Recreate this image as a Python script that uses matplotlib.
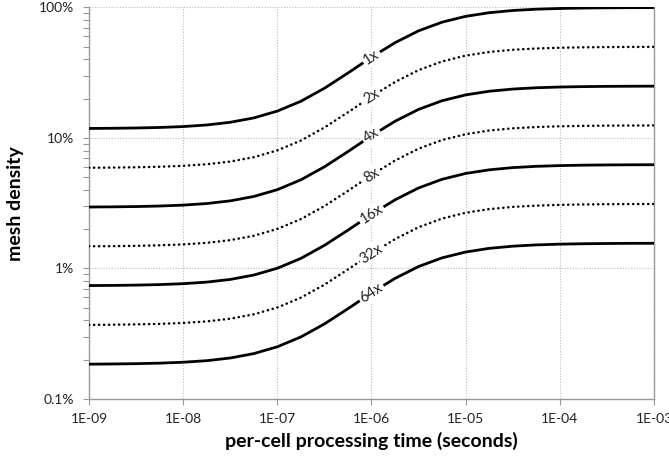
import numpy as np
import matplotlib
matplotlib.use("Agg")
import matplotlib.pyplot as plt

plt.rcParams['font.family'] = ['Lato', 'DejaVu Sans']

# per-cell processing time (s), quarter-decade steps
times = [1.00e-09, 1.78e-09, 3.16e-09, 5.62e-09, 1.00e-08, 1.78e-08, 3.16e-08, 5.62e-08,
         1.00e-07, 1.78e-07, 3.16e-07, 5.62e-07, 1.00e-06, 1.78e-06, 3.16e-06, 5.62e-06,
         1.00e-05, 1.78e-05, 3.16e-05, 5.62e-05, 1.00e-04, 1.78e-04, 3.16e-04, 5.62e-04,
         1.00e-03]

# mesh density for each refinement level
dens_1x = [0.1183, 0.1187, 0.1193, 0.1204, 0.1223, 0.1258, 0.1319, 0.1425, 0.1607,
           0.1912, 0.2404, 0.3145, 0.4159, 0.5375, 0.6624, 0.7720, 0.8554, 0.9124,
           0.9485, 0.9703, 0.9830, 0.9904, 0.9946, 0.9969, 0.9983]
dens_2x = [0.05915, 0.05933, 0.05964, 0.06019, 0.06117, 0.06290, 0.06593, 0.07123, 0.08034,
           0.09561, 0.1202, 0.1573, 0.2079, 0.2687, 0.3312, 0.3860, 0.4277, 0.4562,
           0.4743, 0.4851, 0.4915, 0.4952, 0.4973, 0.4985, 0.4991]
dens_4x = [0.02958, 0.02967, 0.02982, 0.03010, 0.03059, 0.03145, 0.03297, 0.03562, 0.04017,
           0.04781, 0.06010, 0.07863, 0.1040, 0.1344, 0.1656, 0.1930, 0.2139, 0.2281,
           0.2371, 0.2426, 0.2458, 0.2476, 0.2486, 0.2492, 0.2496]
dens_8x = [0.01479, 0.01483, 0.01491, 0.01505, 0.01529, 0.01572, 0.01648, 0.01781, 0.02009,
           0.02390, 0.03005, 0.03931, 0.05199, 0.06718, 0.08281, 0.09650, 0.1069, 0.1141,
           0.1186, 0.1213, 0.1229, 0.1238, 0.1243, 0.1246, 0.1248]
dens_16x = [0.007394, 0.007416, 0.007455, 0.007524, 0.007646, 0.007862, 0.008241, 0.008904,
            0.01004, 0.01195, 0.01503, 0.01966, 0.02599, 0.03359, 0.04140, 0.04825, 0.05347,
            0.05703, 0.05928, 0.06064, 0.06144, 0.06190, 0.06216, 0.06231, 0.06239]
dens_32x = [0.003697, 0.003708, 0.003728, 0.003762, 0.003823, 0.003931, 0.004121, 0.004452,
            0.005021, 0.005976, 0.007513, 0.009828, 0.01300, 0.01680, 0.02070, 0.02412, 0.02673,
            0.02851, 0.02964, 0.03032, 0.03072, 0.03095, 0.03108, 0.03115, 0.03120]
dens_64x = [0.001848, 0.001854, 0.001864, 0.001881, 0.001912, 0.001965, 0.002060, 0.002226,
            0.002511, 0.002988, 0.003756, 0.004914, 0.006498, 0.008398, 0.01035, 0.01206,
            0.01337, 0.01426, 0.01482, 0.01516, 0.01536, 0.01547, 0.01554, 0.01558, 0.01560]

series = [dens_1x, dens_2x, dens_4x, dens_8x, dens_16x, dens_32x, dens_64x]
series_labels = ['1x', '2x', '4x', '8x', '16x', '32x', '64x']

x_ticks = [1e-9, 1e-8, 1e-7, 1e-6, 1e-5, 1e-4, 1e-3]
x_ticklabels = ['1E-09', '1E-08', '1E-07', '1E-06', '1E-05', '1E-04', '1E-03']
y_ticks = [0.001, 0.01, 0.1, 1.0]
y_ticklabels = ['0.1%', '1%', '10%', '100%']

label_idx = 12  # curves get their tag at 1E-06

fig = plt.figure(figsize=(6.69, 4.57), dpi=100)
ax = fig.add_axes([0.133, 0.127, 0.9776 - 0.133, 0.9836 - 0.127])
ax.set_xscale('log')
ax.set_yscale('log')
ax.set_xlim(1e-9, 1e-3)
ax.set_ylim(0.001, 1.0)

for i, (dens, lab) in enumerate(zip(series, series_labels)):
    if i % 2 == 0:
        ax.plot(times, dens, color='black', lw=2.0, solid_capstyle='butt',
                solid_joinstyle='round', zorder=3)
    else:
        ax.plot(times, dens, color='black', lw=1.8, linestyle=(0, (0.1, 1.9)),
                dash_capstyle='round', zorder=3)

# inline tags rotated along each curve
fig.canvas.draw()
for dens, lab in zip(series, series_labels):
    p0 = ax.transData.transform((times[label_idx - 1], dens[label_idx - 1]))
    p1 = ax.transData.transform((times[label_idx + 1], dens[label_idx + 1]))
    ang = np.degrees(np.arctan2(p1[1] - p0[1], p1[0] - p0[0]))
    ax.text(times[label_idx], dens[label_idx], lab, rotation=ang, rotation_mode='anchor',
            ha='center', va='center', fontsize=10.5, color='#222222', zorder=4,
            bbox=dict(facecolor='white', edgecolor='none', pad=1.5))

ax.set_xticks(x_ticks)
ax.set_xticklabels(x_ticklabels)
ax.set_yticks(y_ticks)
ax.set_yticklabels(y_ticklabels)
ax.xaxis.set_minor_locator(matplotlib.ticker.NullLocator())
ax.yaxis.set_minor_locator(matplotlib.ticker.LogLocator(base=10, subs=np.arange(2, 10)))
ax.yaxis.set_minor_formatter(matplotlib.ticker.NullFormatter())

ax.tick_params(axis='both', which='major', direction='out', length=4, width=0.8,
               color='#999999', labelsize=10, labelcolor='#222222')
ax.tick_params(axis='x', which='major', pad=6)
ax.tick_params(axis='y', which='major', pad=7)
ax.tick_params(axis='y', which='minor', direction='out', length=4, width=0.8, color='#999999')

ax.grid(True, which='major', color='#bbbbbb', linestyle=(0, (1, 1.5)), lw=0.8, zorder=0)
ax.set_axisbelow(True)

for side in ['left', 'bottom', 'right']:
    ax.spines[side].set_color('#999999')
    ax.spines[side].set_linewidth(1.0)
ax.spines['top'].set_visible(False)

ax.set_xlabel('per-cell processing time (seconds)', fontsize=14, fontweight='bold')
ax.set_ylabel('mesh density', fontsize=14, fontweight='bold')
ax.xaxis.set_label_coords(0.5, -0.085)
ax.yaxis.set_label_coords(-0.115, 0.5)

fig.savefig('out.png', dpi=100)
